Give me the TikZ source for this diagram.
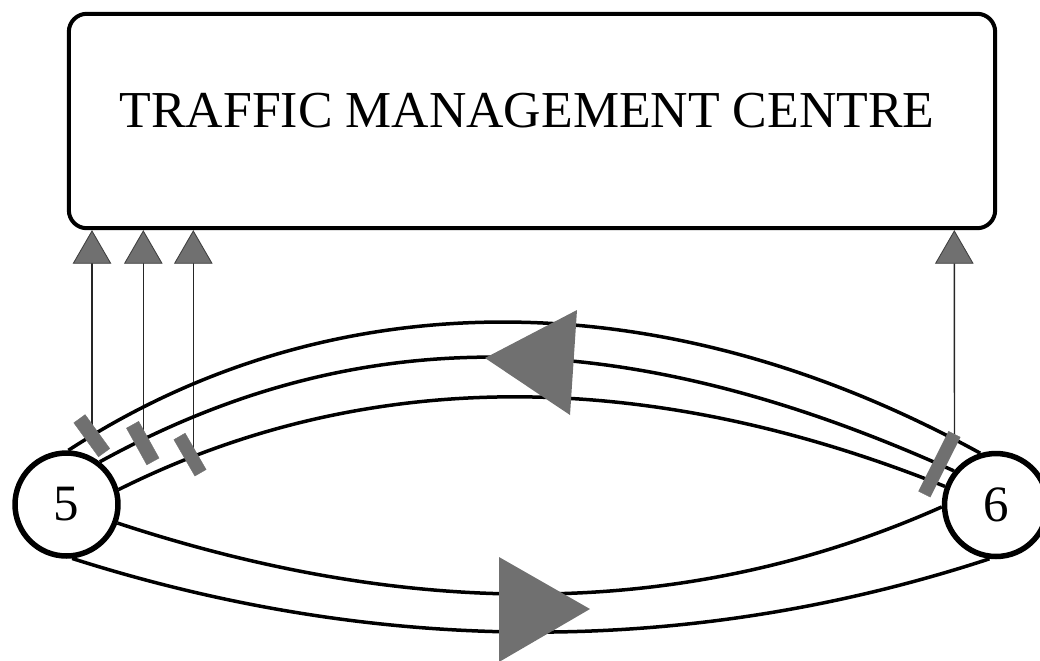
\documentclass[tikz,border=0pt]{standalone}
\usepackage{fontspec}
\setmainfont{Liberation Serif}
\usetikzlibrary{shapes.geometric,backgrounds}
\definecolor{mgray}{RGB}{112,112,112}
\begin{document}
\begin{tikzpicture}[x=0.02cm,y=-0.02cm,
  road/.style={line width=0.07cm, black},
  station/.style={circle, draw, line width=0.11cm, fill=white, minimum size=2.06cm, inner sep=0pt, font=\fontsize{29}{32}\selectfont},
  tmc/.style={draw, line width=0.08cm, rounded corners=0.36cm, minimum width=18.53cm, minimum height=4.29cm, inner sep=0pt},
  sensor/.style={fill=mgray, draw=mgray, line width=0.2pt, inner sep=0pt, minimum width=0.28cm, minimum height=0.84cm},
  uptri/.style={regular polygon, regular polygon sides=3, fill=mgray, draw=black!75, line width=0.5pt, minimum size=0.86cm, inner sep=0pt, outer sep=0pt, anchor=corner 1},
  link/.style={line width=0.028cm, black!85},
  flow/.style={fill=mgray}
]
\clip (0,0) rectangle (1040,660);

% traffic management centre
\node[tmc] (centre) at (532,121) {};
\node[font=\fontsize{29.5}{34}\selectfont, inner sep=0pt] (title) at (527,110.5) {TRAFFIC MANAGEMENT CENTRE};

% stations
\node[station] (n5) at (66.5,504.5) {5};
\node[station] (n6) at (996,505) {6};

% upper road (towards 5)
\draw[road] (n5.88) .. controls (320.5,285.9) and (650.5,271.8) .. (n6.107);
\draw[road] (n5.52) .. controls (347,326.2) and (609,315.2) .. (n6.141);
\draw[road] (n5.16) .. controls (356.7,370.7) and (635.3,362.3) .. (n6.160);

% lower road (towards 6)
\draw[road] (n5.-20) .. controls (374,607.5) and (658,633.3) .. (n6.182);
\draw[road] (n5.-84) .. controls (381,656.9) and (692,656.3) .. (n6.263.5);

% direction arrows
\fill[flow] (485,358) -- (577,310) -- (570,415) -- cycle;
\fill[flow] (499,557) -- (499,662) -- (590,609) -- cycle;

% detectors
\node[sensor, rotate=36] (d1) at (91.8,435.7) {};
\node[sensor, rotate=29] (d2) at (142.75,443.1) {};
\node[sensor, rotate=30, minimum width=0.26cm] (d3) at (190,454.6) {};
\node[sensor, rotate=-26.6, minimum width=0.26cm, minimum height=1.34cm] (d4) at (939.4,464.2) {};

% transmitters
\node[uptri] (t1) at (92,231) {};
\node[uptri] (t2) at (143.3,231) {};
\node[uptri] (t3) at (193.3,231) {};
\node[uptri] (t4) at (954.3,231) {};

\begin{scope}[on background layer]
\draw[link] (t1.side 2) -- (t1.side 2 |- d1.center);
\draw[link] (t2.side 2) -- (t2.side 2 |- d2.center);
\draw[link] (t3.side 2) -- (t3.side 2 |- d3.center);
\draw[link] (t4.side 2) -- (d4.north);
\end{scope}
\end{tikzpicture}
\end{document}
